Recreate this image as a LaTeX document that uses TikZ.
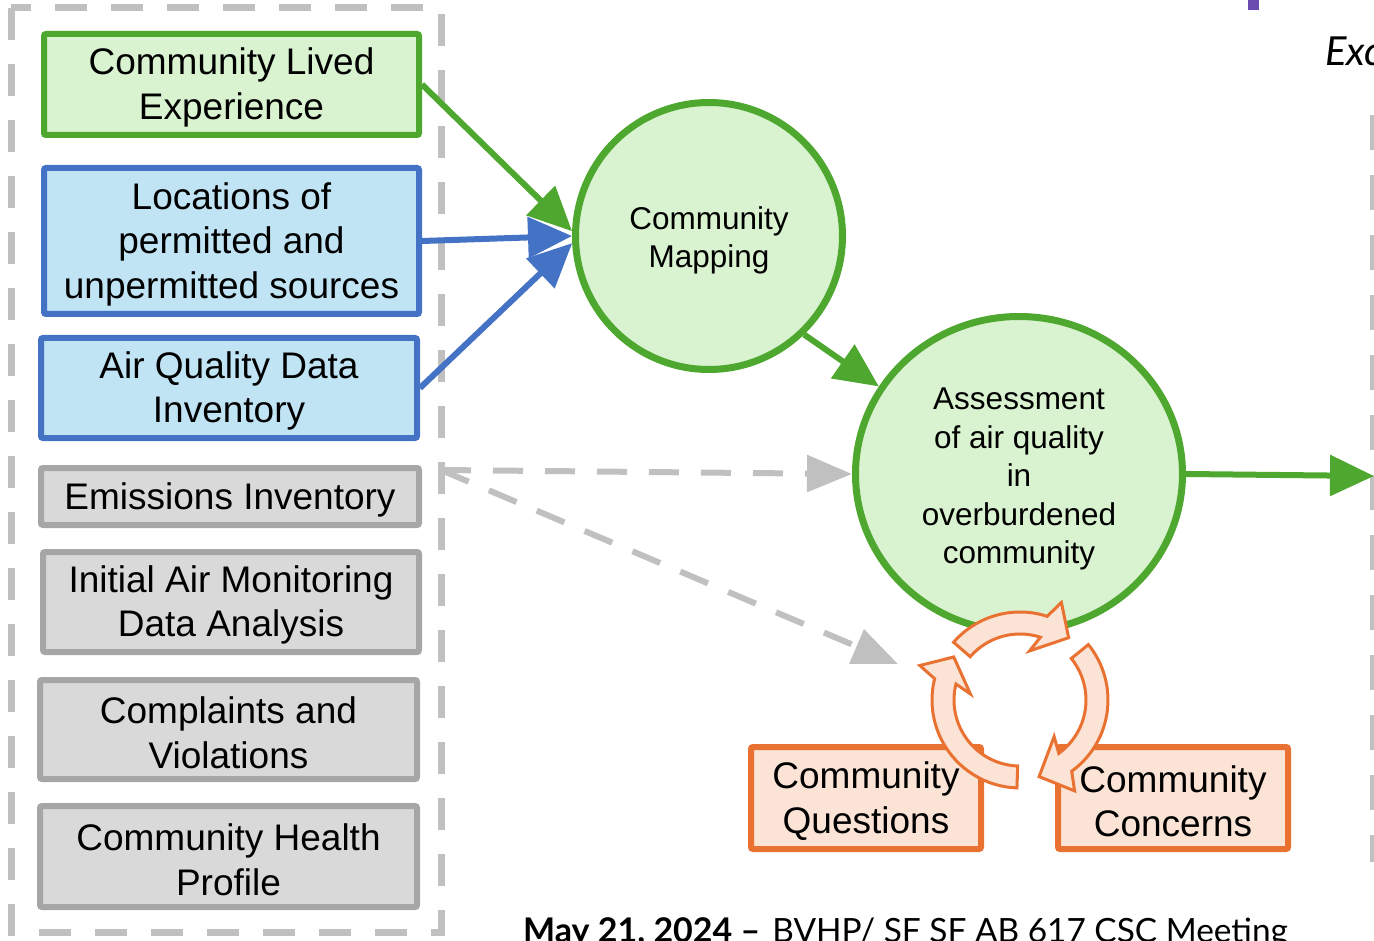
\documentclass[tikz,border=0pt]{standalone}
\usepackage{fontspec}
\setmainfont{Liberation Sans}
\newfontfamily\latofont{Lato}
\usetikzlibrary{arrows.meta,shapes.geometric,calc}
\definecolor{gline}{HTML}{4EA72E}
\definecolor{gfill}{HTML}{D9F2D0}
\definecolor{bline}{HTML}{4472C4}
\definecolor{bfill}{HTML}{C1E4F5}
\definecolor{grline}{HTML}{A6A6A6}
\definecolor{grfill}{HTML}{D9D9D9}
\definecolor{dashgray}{HTML}{C0C0C0}
\definecolor{oline}{HTML}{E97132}
\definecolor{ofill}{HTML}{FBE3D6}
\definecolor{purp}{HTML}{6A4BB0}
\newcommand{\bx}{\rule{0pt}{33pt}}
\newcommand{\bb}{\rule{0pt}{32pt}}
\newcommand{\cycarrow}[3]{%
  \draw[cyc] ($(cyc)+(#1:88pt)$) arc[start angle=#1, end angle=#2, radius=88pt]
    -- ($(cyc)+(#2-5:106pt)$) -- ($(cyc)+(#3:79pt)$) -- ($(cyc)+(#2+7:50pt)$)
    -- ($(cyc)+(#2:66pt)$) arc[start angle=#2, end angle=#1, radius=66pt] -- cycle;}
\begin{document}
\begin{tikzpicture}[x=1pt,y=-1pt,
  box/.style={draw, line width=6pt, rounded corners=2pt, align=center, inner sep=0pt,
    font=\fontsize{37}{44.5}\selectfont},
  greenbox/.style={box, draw=gline, fill=gfill},
  bluebox/.style={box, draw=bline, fill=bfill},
  graybox/.style={box, draw=grline, fill=grfill},
  orangebox/.style={box, draw=oline, fill=ofill},
  bubble/.style={draw=gline, fill=gfill, line width=7pt, align=center, inner sep=0pt,
    font=\fontsize{31.5}{38.4}\selectfont},
  garrow/.style={draw=gline, line width=6pt, -{Triangle[length=44pt,width=40pt]}},
  barrow/.style={draw=bline, line width=6pt, -{Triangle[length=44pt,width=40pt]}},
  dasharrow/.style={draw=dashgray, line width=6pt, dash pattern=on 30pt off 22pt,
    -{Triangle[length=45pt,width=36pt]}},
  frame/.style={draw=dashgray, line width=7pt, dash pattern=on 32pt off 24pt},
  cyc/.style={draw=oline, fill=ofill, line width=3pt, line join=miter}
]
\useasboundingbox (0,0) rectangle (1374,941);
\clip (0,0) rectangle (1374,941);

% dashed frame around inputs
\draw[frame] (11,8) rectangle (441,932);
% right dashed border
\draw[dashgray, line width=5pt, dash pattern=on 35pt off 25pt] (1372,115) -- (1372,862);
% purple mark
\fill[purp] (1248,0) rectangle (1259,10);

% input boxes
\node[greenbox, minimum width=375pt, minimum height=101pt] (lived) at (231.5,84.5) {\bx Community Lived\\Experience};
\node[bluebox, minimum width=375pt, minimum height=146pt] (loc) at (231.5,241) {\bx Locations of\\permitted and\\unpermitted sources};
\node[bluebox, minimum width=376pt, minimum height=100pt] (aq) at (229,388) {\bx Air Quality Data\\Inventory};
\node[graybox, minimum width=378pt, minimum height=57pt] (emis) at (230,496.5) {\bx Emissions Inventory};
\node[graybox, minimum width=376pt, minimum height=100pt] (init) at (231,602) {\bx Initial Air Monitoring\\Data Analysis};
\node[graybox, minimum width=377pt, minimum height=99pt] (compl) at (228.5,729.5) {\bx Complaints and\\Violations};
\node[graybox, minimum width=377pt, minimum height=101pt] (health) at (228.5,856.5) {\bx Community Health\\Profile};

% bubbles
\node[bubble, circle, minimum size=267pt] (mapping) at (709,236) {\bb Community\\Mapping};
\node[bubble, ellipse, minimum width=327pt, minimum height=315pt] (assess) at (1019,474)
  {\bb Assessment\\of air quality\\in\\overburdened\\community};

% community boxes
\node[orangebox, minimum width=230pt, minimum height=102pt] (quest) at (866,798) {\bx Community\\Questions};
\node[orangebox, minimum width=230pt, minimum height=102pt] (conc) at (1173,798) {\bx Community\\Concerns};

% arrows
\draw[garrow] (lived.east) -- (mapping.178);
\draw[barrow] (loc.east) -- (mapping.west);
\draw[barrow] (aq.east) -- (mapping.183);
\draw[garrow] (mapping.-46) -- (assess.148);
\coordinate (rtip) at (1374,476);
\draw[garrow] (assess.east) -- (rtip);

\coordinate (gsrc) at (441,470);
\coordinate (qtip) at (898,664);
\draw[dasharrow] (gsrc) -- (assess.west);
\draw[dasharrow] (gsrc) -- (qtip);

% cycle arrows
\coordinate (cyc) at (1020,700);
\cycarrow{139}{72}{52}
\cycarrow{39}{-54}{-76}
\cycarrow{268}{166}{147}

% texts
\node[anchor=base west, inner sep=0pt, font=\latofont\itshape\fontsize{40}{48}\selectfont] (exc) at (1325,66) {Exc};
\node[anchor=base west, inner sep=0pt, font=\latofont\fontsize{34}{40}\selectfont] (foot) at (523,942)
  {\textbf{May 21, 2024 –}\hspace{12pt}{\fontsize{33.4}{40}\selectfont BVHP/ SF SF AB 617 CSC Meeting}};
\end{tikzpicture}
\end{document}
